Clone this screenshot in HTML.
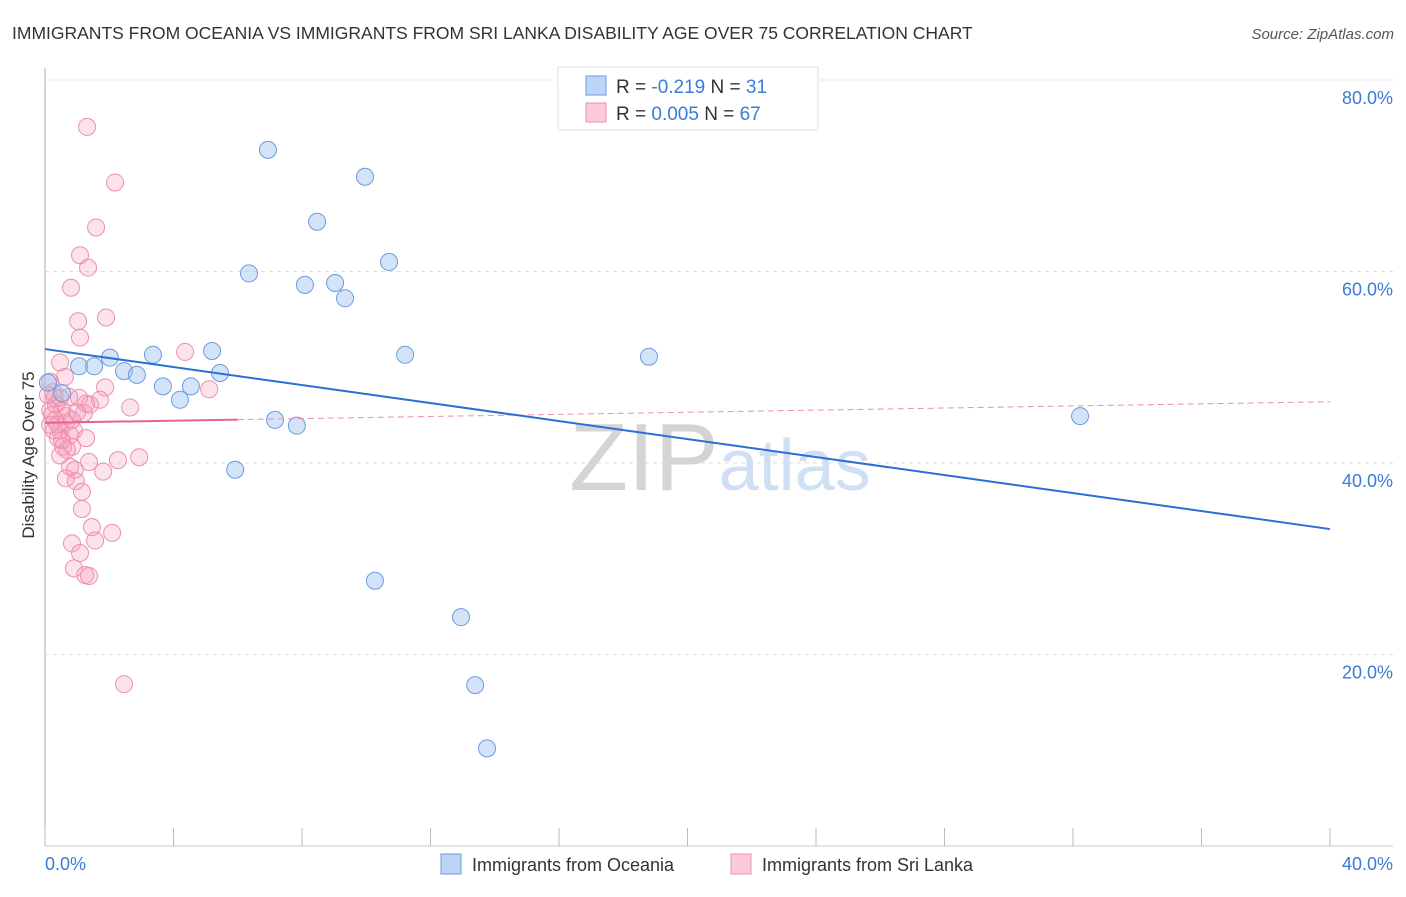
<!DOCTYPE html>
<html><head><meta charset="utf-8"><style>
body{margin:0;background:#fff;font-family:"Liberation Sans",sans-serif}
svg text{font-family:"Liberation Sans",sans-serif}
</style></head><body>
<svg width="1406" height="892" xmlns="http://www.w3.org/2000/svg">
<text x="12" y="39" font-size="17.5" fill="#333">IMMIGRANTS FROM OCEANIA VS IMMIGRANTS FROM SRI LANKA DISABILITY AGE OVER 75 CORRELATION CHART</text>
<text x="1394" y="39" font-size="15" fill="#555" font-style="italic" text-anchor="end">Source: ZipAtlas.com</text>
<g id="grid"></g>
<text x="720" y="490" font-size="96" fill="#ddd" text-anchor="middle" font-family="Liberation Serif"><tspan fill="#d4d4d4">ZIP</tspan><tspan fill="#cfe0f4" font-family="Liberation Sans" font-size="72">atlas</tspan></text>
<text transform="translate(34,455) rotate(-90)" font-size="17" fill="#333" text-anchor="middle">Disability Age Over 75</text>
<g id="marks"></g>
<g>
<rect x="558" y="67" width="260" height="63" fill="#fff" stroke="#ddd"/>
<rect x="586" y="76" width="20" height="19" fill="#bcd4f6" stroke="#6a9be0"/>
<text x="616" y="93" font-size="19" fill="#333">R = <tspan fill="#3b7bd8">-0.219</tspan>   N = <tspan fill="#3b7bd8">31</tspan></text>
<rect x="586" y="103" width="20" height="19" fill="#fbcbda" stroke="#ee8fae"/>
<text x="616" y="120" font-size="19" fill="#333">R = <tspan fill="#3b7bd8">0.005</tspan>   N = <tspan fill="#3b7bd8">67</tspan></text>
</g>
<g>
<rect x="441" y="854" width="20" height="20" fill="#bcd4f6" stroke="#6a9be0"/>
<text x="472" y="871" font-size="18" fill="#333">Immigrants from Oceania</text>
<rect x="731" y="854" width="20" height="20" fill="#fbcbda" stroke="#ee8fae"/>
<text x="762" y="871" font-size="18" fill="#333">Immigrants from Sri Lanka</text>
</g>
</svg>
<script>
const yTicks=[20,40,60,80];
const xTickLabels=["0.0%","40.0%"];
const blueX=[0.53,1.06,1.53,2.02,2.46,2.86,3.36,3.67,4.20,4.54,5.20,5.45,5.92,6.35,6.94,7.16,7.84,8.09,8.47,9.03,9.34,9.96,10.27,10.71,11.21,12.95,13.39,13.76,18.80,32.22,0.09];
const blueY=[47.3,50.1,50.1,51.0,49.6,49.2,51.3,48.0,46.6,48.0,51.7,49.4,39.3,59.8,72.7,44.5,43.9,58.6,65.2,58.8,57.2,69.9,27.7,61.0,51.3,23.9,16.8,10.2,51.1,44.9,48.4];
const pinkX=[1.31,2.18,1.59,1.09,1.34,0.81,1.03,1.90,1.09,0.47,4.36,0.62,1.87,5.11,0.16,0.25,2.65,1.06,1.28,0.34,0.53,1.21,0.16,0.31,0.65,0.47,0.78,0.40,0.84,0.68,1.37,2.27,2.93,1.81,0.78,0.93,0.65,0.96,1.15,1.15,1.46,2.09,1.56,0.84,1.09,0.90,1.25,1.37,2.46,0.31,0.22,0.40,0.09,0.53,0.90,1.71,0.65,0.84,1.40,0.47,0.16,0.56,0.75,0.28,1.00,1.28,0.47];
const pinkY=[75.1,69.3,64.6,61.7,60.4,58.3,54.8,55.2,53.1,50.5,51.6,49.0,47.9,47.7,48.5,47.4,45.8,46.8,46.2,46.1,45.5,45.2,45.5,44.5,44.2,43.4,42.9,42.6,41.7,41.4,40.1,40.3,40.6,39.1,39.6,39.3,38.4,38.1,37.0,35.2,33.3,32.7,31.9,31.6,30.6,29.0,28.3,28.2,16.9,46.8,45.0,44.0,47.1,42.4,43.4,46.6,44.9,44.5,46.1,46.8,44.0,41.7,46.9,43.4,45.3,42.6,40.8];
const blueTrend=[51.9,33.1];
const pinkTrend=[44.2,46.4];
const pinkSolidEnd=6;
const NS="http://www.w3.org/2000/svg";
const X=v=>45+v*(1285/40), Y=v=>846-v*(766/80);
function mk(tag,attrs,parent){const e=document.createElementNS(NS,tag);for(const k in attrs)e.setAttribute(k,attrs[k]);parent.appendChild(e);return e;}
const grid=document.getElementById('grid'), marks=document.getElementById('marks');
let ax=mk('line',{x1:45,y1:68,x2:45,y2:846,stroke:'#aaa'},grid);


let bx=mk('line',{x1:45,y1:846,x2:1393,y2:846,stroke:'#ccc'},grid);


yTicks.forEach(t=>{
 const g=mk('line',{x1:45,y1:Y(t),x2:1393,y2:Y(t),stroke:'#ddd','stroke-dasharray':'4,4'},grid);
 
 
 const l=mk('text',{x:1393,y:Y(t)+24,'font-size':18,fill:'#3b7bd8','text-anchor':'end'},grid);
 l.textContent=t.toFixed(1)+'%';
 
 
});
for(let i=0;i<=10;i++){
 const t=mk('line',{x1:X(i*4),y1:828,x2:X(i*4),y2:846,stroke:'#bbb'},grid);
 
 
}
[[0,'start',45],[1,'end',1393]].forEach(([i,a,x])=>{
 const l=mk('text',{x:x,y:870,'font-size':18,fill:'#3b7bd8','text-anchor':a},grid);
 l.textContent=xTickLabels[i];
 
 
});
pinkX.forEach((x,i)=>{
 const c=mk('circle',{cx:X(x),cy:Y(pinkY[i]),r:8.5,fill:'rgba(245,160,190,0.3)',stroke:'#ee8fae','stroke-width':1},marks);
 
 
});
blueX.forEach((x,i)=>{
 const c=mk('circle',{cx:X(x),cy:Y(blueY[i]),r:8.5,fill:'rgba(160,195,240,0.45)',stroke:'#6a9be0','stroke-width':1},marks);
 
 
});
const pAt=v=>pinkTrend[0]+(pinkTrend[1]-pinkTrend[0])*v/40;
let pd=mk('line',{x1:X(pinkSolidEnd),y1:Y(pAt(pinkSolidEnd)),x2:X(40),y2:Y(pinkTrend[1]),stroke:'#ee8fae','stroke-width':1,'stroke-dasharray':'6,4'},marks);


let ps=mk('line',{x1:X(0),y1:Y(pinkTrend[0]),x2:X(pinkSolidEnd),y2:Y(pAt(pinkSolidEnd)),stroke:'#e8628e','stroke-width':2},marks);


let bt=mk('line',{x1:X(0),y1:Y(blueTrend[0]),x2:X(40),y2:Y(blueTrend[1]),stroke:'#2b6fd6','stroke-width':2},marks);


</script>
</body></html>
